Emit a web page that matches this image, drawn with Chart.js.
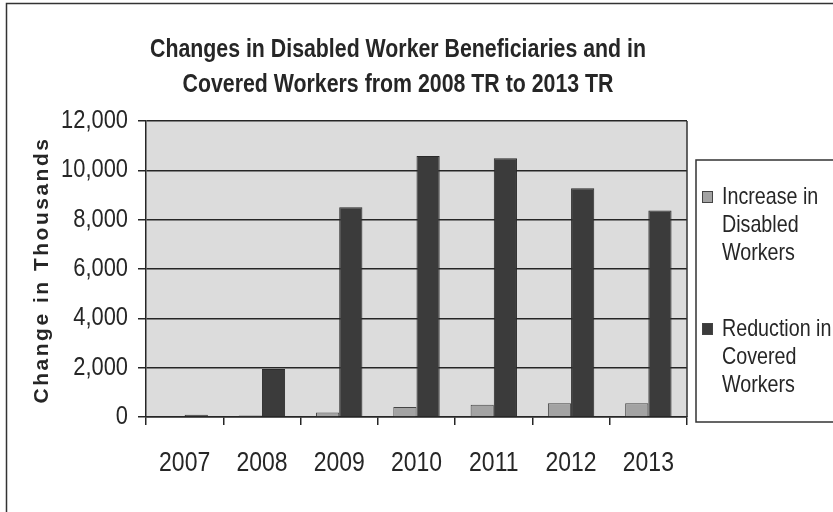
<!DOCTYPE html>
<html>
<head>
<meta charset="utf-8">
<title>Disabled Worker Beneficiaries and Covered Workers</title>
<script src="https://cdn.jsdelivr.net/npm/chart.js@4.4.1/dist/chart.umd.min.js"></script>
<style>
  html, body { margin: 0; padding: 0; background: #ffffff; }
  #wrap { width: 833px; height: 512px; }
</style>
</head>
<body>
<div id="wrap"><canvas id="trChart" width="833" height="512"></canvas></div>
<script>
// Data
const years = ['2007', '2008', '2009', '2010', '2011', '2012', '2013'];
const disabledIncrease = [0, 60, 180, 410, 500, 555, 560];
const coveredReduction = [90, 1950, 8500, 10580, 10490, 9270, 8370];
const disabledLabel = ['Increase in', 'Disabled', 'Workers'];
const coveredLabel = ['Reduction in', 'Covered', 'Workers'];
const titleLines = ['Changes in Disabled Worker Beneficiaries and in', 'Covered Workers from 2008 TR to 2013 TR'];
const yTitle = 'Change in Thousands';

const sans = '"Liberation Sans", Arial, sans-serif';
const ink = '#262626';

// Arial-Narrow look: squeeze the text horizontally around its anchor
function narrowText(ctx, text, x, y, font, align, sx) {
  ctx.save();
  ctx.translate(x, y);
  ctx.scale(sx, 1);
  ctx.font = font;
  ctx.textAlign = align;
  ctx.textBaseline = 'middle';
  ctx.fillText(text, 0, 0);
  ctx.restore();
}

// Plot background, frame, title, tick labels, y title and legend
const decorations = {
  id: 'decorations',
  beforeDraw(chart) {
    const { ctx, chartArea: a } = chart;
    ctx.save();
    ctx.fillStyle = '#dcdcdc';
    ctx.fillRect(a.left, a.top, a.right - a.left, a.bottom - a.top);
    ctx.restore();
  },
  afterDraw(chart) {
    const { ctx, chartArea: a } = chart;
    const xs = chart.scales.x, ys = chart.scales.y;
    ctx.save();
    ctx.fillStyle = ink;

    // outer frame
    ctx.strokeStyle = '#333';
    ctx.lineWidth = 1.5;
    ctx.strokeRect(6.5, 3.5, 900, 600);
    // right edge of plot
    ctx.beginPath();
    ctx.moveTo(a.right, a.top);
    ctx.lineTo(a.right, a.bottom);
    ctx.stroke();

    // chart title
    titleLines.forEach((line, i) => {
      narrowText(ctx, line, 398, 50 + i * 35, 'bold 26px ' + sans, 'center', 0.82);
    });

    // tick labels from the scales
    ys.ticks.forEach((t, i) => {
      narrowText(ctx, t.value.toLocaleString('en-US'), a.left - 18, ys.getPixelForTick(i),
        '25px ' + sans, 'right', 0.875);
    });
    xs.ticks.forEach((t, i) => {
      narrowText(ctx, xs.getLabelForValue(t.value), xs.getPixelForTick(i), a.bottom + 46,
        '28px ' + sans, 'center', 0.82);
    });

    // y axis title
    ctx.save();
    ctx.translate(42, (a.top + a.bottom) / 2 + 1);
    ctx.rotate(-Math.PI / 2);
    ctx.font = 'bold 21px ' + sans;
    ctx.letterSpacing = '2.5px';
    ctx.fillStyle = ink;
    ctx.textAlign = 'center';
    ctx.textBaseline = 'middle';
    ctx.fillText(yTitle, 0, 0);
    ctx.restore();

    // legend
    const lx = a.right + 9, ly = 160;
    ctx.strokeStyle = '#333';
    ctx.lineWidth = 1.5;
    ctx.strokeRect(lx, ly, 300, 262);
    const starts = [197, 329];
    chart.data.datasets.forEach((ds, i) => {
      const y0 = starts[i];
      ctx.fillStyle = ds.backgroundColor;
      ctx.fillRect(lx + 6, y0 - 6, 11, 12);
      ctx.strokeStyle = '#444';
      ctx.lineWidth = 1;
      ctx.strokeRect(lx + 6.5, y0 - 5.5, 10, 11);
      ctx.fillStyle = ink;
      ds.label.forEach((line, k) => {
        narrowText(ctx, line, lx + 26, y0 + k * 28, '24px ' + sans, 'left', 0.82);
      });
    });
    ctx.restore();
  }
};

const ctx = document.getElementById('trChart').getContext('2d');
const trChart = new Chart(ctx, {
  type: 'bar',
  data: {
    labels: years,
    datasets: [
      {
        label: disabledLabel,
        data: disabledIncrease,
        backgroundColor: '#a3a3a3',
        borderColor: '#444',
        borderWidth: 1
      },
      {
        label: coveredLabel,
        data: coveredReduction,
        backgroundColor: '#3b3b3b',
        borderColor: '#2a2a2a',
        borderWidth: 1
      }
    ]
  },
  options: {
    responsive: false,
    animation: false,
    layout: { padding: { left: 0, right: 146, top: 121, bottom: 0 } },
    datasets: {
      bar: { categoryPercentage: 0.6, barPercentage: 1.0 }
    },
    plugins: {
      legend: { display: false },
      tooltip: { enabled: false },
      title: { display: false }
    },
    scales: {
      x: {
        grid: {
          drawOnChartArea: false,
          drawTicks: true,
          tickLength: 8,
          color: ink,
          lineWidth: 1.5
        },
        border: { color: ink, width: 1.5 },
        ticks: { display: false },
        afterFit(scale) { scale.height = 95; }
      },
      y: {
        min: 0,
        max: 12000,
        ticks: { stepSize: 2000, display: false },
        grid: {
          color: ink,
          lineWidth: 1.5,
          tickLength: 8
        },
        border: { color: ink, width: 1.5 },
        afterFit(scale) { scale.width = 146; }
      }
    }
  },
  plugins: [decorations]
});
</script>
</body>
</html>
